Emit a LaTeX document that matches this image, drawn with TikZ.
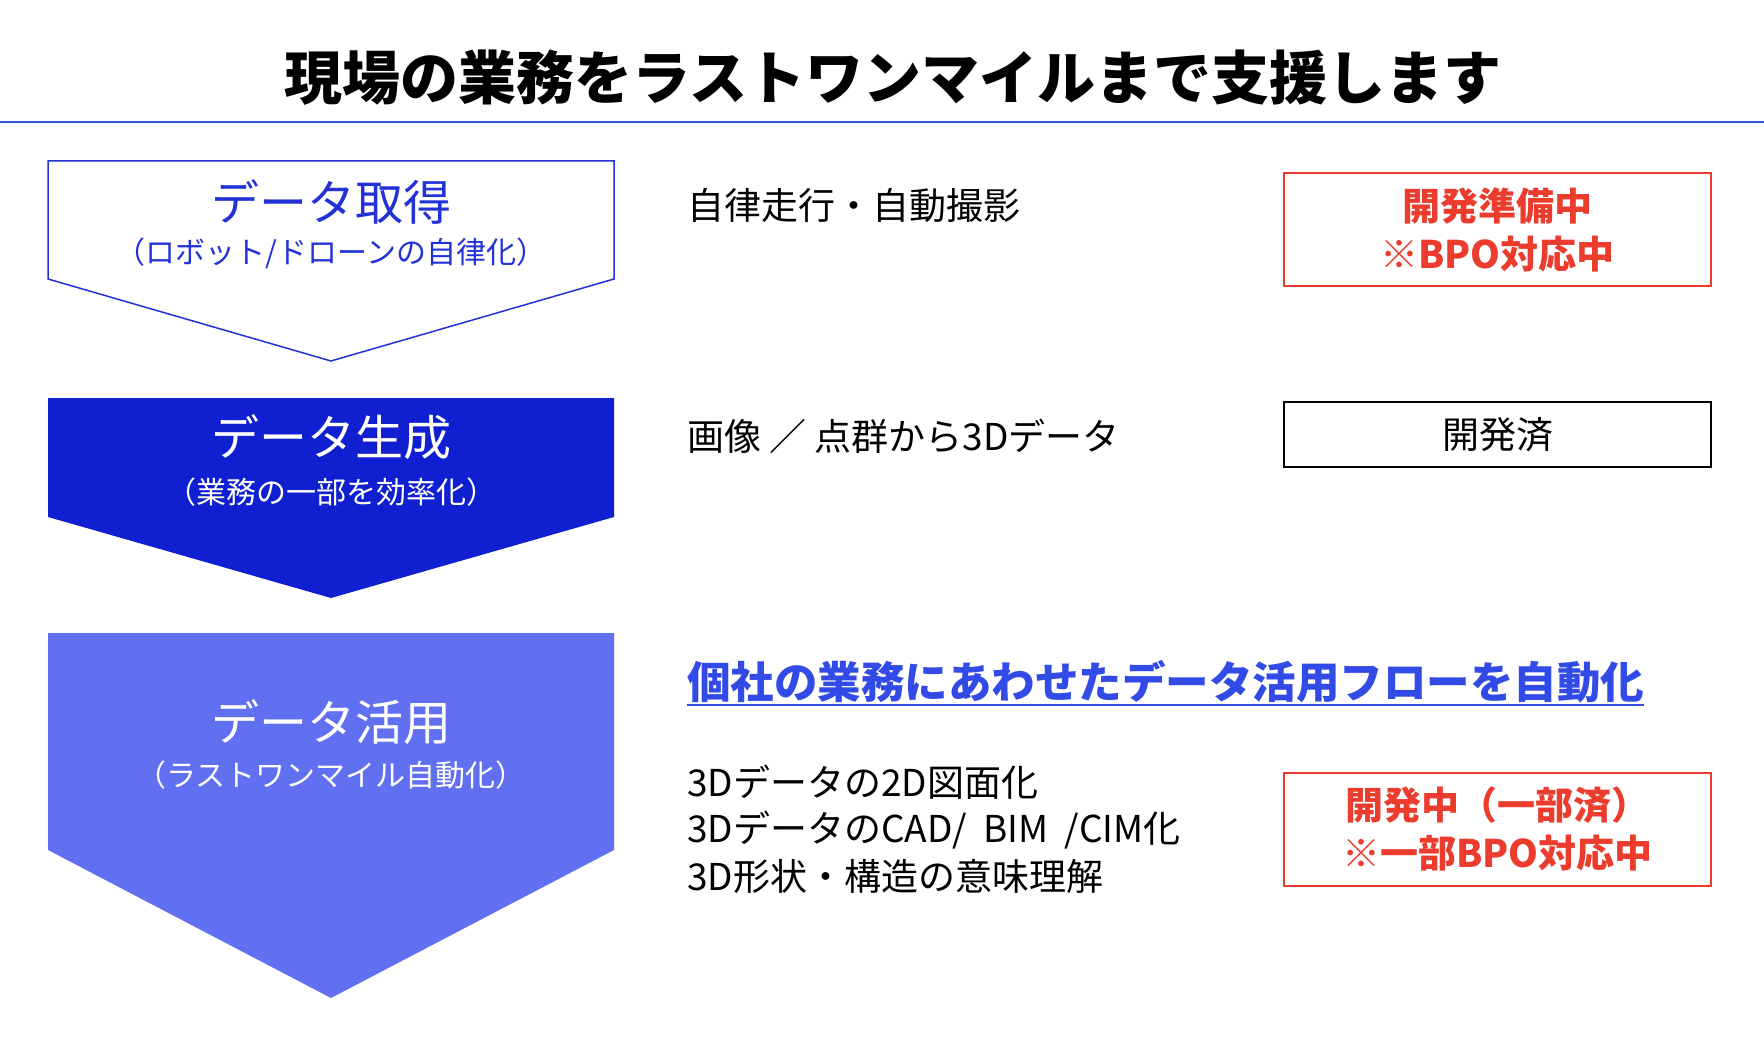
\documentclass[tikz,border=0pt]{standalone}
\usepackage{fontspec}
\setmainfont{Noto Sans CJK JP}
\definecolor{lineblue}{RGB}{50,80,230}
\definecolor{stageone}{RGB}{35,50,215}
\definecolor{stagetwo}{RGB}{16,32,208}
\definecolor{stagethree}{RGB}{96,112,240}
\definecolor{statusred}{RGB}{235,60,45}
\definecolor{linkblue}{RGB}{50,75,230}
\tikzset{
  txt/.style={inner sep=0pt},
  head/.style={txt, font=\fontsize{48}{50}\selectfont},
  sub/.style={txt, font=\fontsize{30}{32}\selectfont},
  item/.style={txt, anchor=west, font=\fontsize{37}{40}\selectfont},
  status/.style={draw, line width=2, minimum width=427, minimum height=113, inner sep=0pt, align=center,
    font=\fontsize{38}{48}\selectfont\bfseries}
}
\begin{document}
\begin{tikzpicture}[x=1pt,y=-1pt]
\useasboundingbox (0,0) rectangle (1764,1048);

\node[txt, font=\fontsize{58}{60}\selectfont\bfseries] (title) at (893,78) {現場の業務をラストワンマイルまで支援します};
\draw[lineblue, line width=2] (0,122) -- (1764,122);

% stages
\draw[stageone, line width=1.5] (48,161) -- (614,161) -- (614,279) -- (331,361) -- (48,279) -- cycle;
\node[head, stageone] (acq) at (331,202) {データ取得};
\node[sub, stageone] (acqsub) at (331,253) {（ロボット/ドローンの自律化）};

\fill[stagetwo] (48,398) -- (614,398) -- (614,517) -- (331,598) -- (48,517) -- cycle;
\node[head, white] (gen) at (331,437) {データ生成};
\node[sub, white] (gensub) at (331,492) {（業務の一部を効率化）};

\fill[stagethree] (48,633) -- (614,633) -- (614,850) -- (331,998) -- (48,850) -- cycle;
\node[head, white] (use) at (331,722) {データ活用};
\node[sub, white] (usesub) at (331,775) {（ラストワンマイル自動化）};

% middle column
\node[item] (auto) at (687,205) {自律走行・自動撮影};
\node[item] (pts) at (687,436) {画像 ／ 点群から3Dデータ};
\node[item, linkblue, font=\fontsize{43.5}{46}\selectfont\bfseries] (flow) at (687,682) {個社の業務にあわせたデータ活用フローを自動化};
\draw[linkblue, line width=2.5] ([yshift=-6]flow.base west) -- ([yshift=-6]flow.base east);
\node[item] (draw2d) at (687,782) {3Dデータの2D図面化};
\node[item] (cad) at (687,830) {3DデータのCAD/ \ BIM \ /CIM化};
\node[item] (sem) at (687,877) {3D形状・構造の意味理解};

% status
\node[status, statusred] (st1) at (1497.5,229.5) {開発準備中\\※BPO対応中};
\node[status, black, minimum height=65, font=\fontsize{37}{40}\selectfont] (st2) at (1497.5,434.5) {開発済};
\node[status, statusred] (st3) at (1497.5,829) {開発中（一部済）\\※一部BPO対応中};
\end{tikzpicture}
\end{document}
